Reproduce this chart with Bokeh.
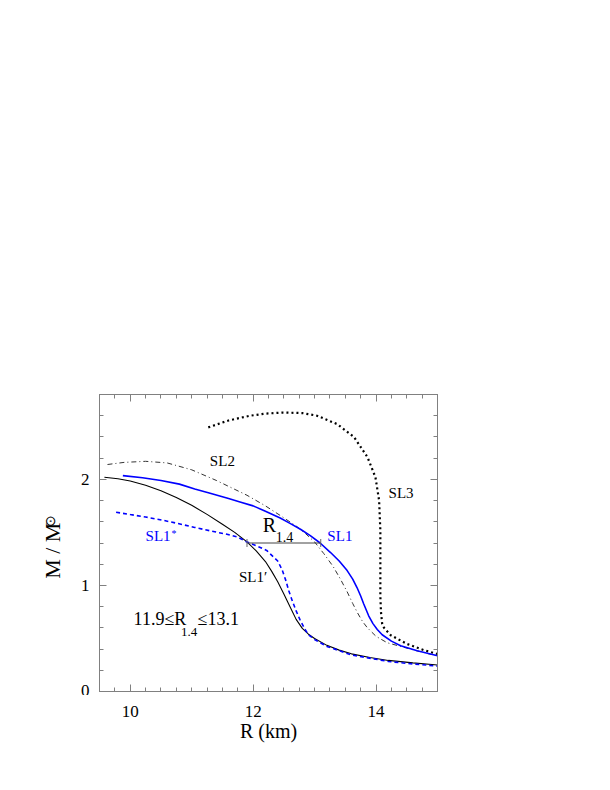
from bokeh.plotting import figure
from bokeh.layouts import row, column
from bokeh.models import Range1d, LinearAxis, SingleIntervalTicker, Label
from bokeh.embed import file_html
from bokeh.resources import INLINE

FONT = "'Liberation Serif', 'Times New Roman', serif"

# ---------------- data ----------------
x_ticks = [10, 12, 14]
y_ticks = [0, 1, 2]

sl1p_r = [9.58, 9.8, 10.0, 10.25, 10.5, 10.75, 11.0, 11.25, 11.5, 11.7, 11.9, 12.05, 12.2, 12.3,
          12.4, 12.5, 12.6, 12.7, 12.8, 12.9, 13.0, 13.2, 13.4, 13.6, 13.9, 14.2, 14.6, 15.0]
sl1p_m = [2.02, 2.005, 1.985, 1.945, 1.893, 1.83, 1.755, 1.67, 1.577, 1.50, 1.41, 1.325, 1.225, 1.135,
          1.035, 0.92, 0.80, 0.68, 0.595, 0.54, 0.50, 0.435, 0.39, 0.355, 0.32, 0.293, 0.27, 0.25]

sl1s_r = [9.77, 10.0, 10.25, 10.51, 10.75, 11.05, 11.3, 11.59, 11.75, 11.9, 12.05, 12.22, 12.4,
          12.47, 12.53, 12.58, 12.64, 12.7, 12.76, 12.84, 12.9, 13.0, 13.2, 13.6, 14.2, 14.6, 15.0]
sl1s_m = [1.69, 1.668, 1.645, 1.617, 1.587, 1.547, 1.515, 1.48, 1.455, 1.41, 1.375, 1.33, 1.23,
          1.15, 1.05, 0.95, 0.85, 0.76, 0.68, 0.59, 0.535, 0.49, 0.425, 0.345, 0.283, 0.26, 0.24]

sl1_r = [9.88, 10.2, 10.5, 10.8, 11.05, 11.3, 11.6, 11.8, 12.0, 12.2, 12.44, 12.6, 12.77, 12.93,
         13.09, 13.26, 13.4, 13.53, 13.62, 13.69, 13.75, 13.8, 13.88, 13.95, 14.02, 14.1, 14.25,
         14.4, 14.67, 15.0]
sl1_m = [2.035, 2.015, 1.99, 1.955, 1.91, 1.87, 1.82, 1.785, 1.75, 1.70, 1.635, 1.585, 1.53, 1.47,
         1.40, 1.31, 1.23, 1.14, 1.06, 0.98, 0.90, 0.825, 0.714, 0.64, 0.585, 0.535, 0.475,
         0.432, 0.384, 0.337]

sl2_r = [9.63, 9.9, 10.25, 10.6, 11.0, 11.4, 11.9, 12.2, 12.44, 12.7, 12.85, 13.0, 13.15, 13.3,
         13.42, 13.53, 13.62, 13.7, 13.78, 13.86, 14.0, 14.18, 14.4, 14.7, 15.0]
sl2_m = [2.14, 2.16, 2.17, 2.155, 2.09, 1.99, 1.85, 1.75, 1.66, 1.56, 1.49, 1.41, 1.30, 1.18,
         1.06, 0.94, 0.83, 0.74, 0.66, 0.60, 0.52, 0.46, 0.425, 0.378, 0.335]

sl3_r = [11.27, 11.6, 11.95, 12.2, 12.49, 12.8, 13.04, 13.37, 13.64, 13.86, 13.99, 14.05, 14.07,
         14.07, 14.07, 14.08, 14.10, 14.13, 14.24, 14.51, 14.78, 15.0]
sl3_m = [2.49, 2.555, 2.60, 2.62, 2.63, 2.625, 2.60, 2.52, 2.40, 2.21, 2.02, 1.80, 1.52,
         1.20, 0.90, 0.75, 0.636, 0.60, 0.53, 0.447, 0.39, 0.353]

r14_bounds = [11.9, 13.1]
m14 = [1.4, 1.4]

# ---------------- geometry ----------------
TOP, FW, FH, BOT, RIGHT = 394, 338, 297, 4, 20   # main frame position / size (px)
LEFT_W = 75                                        # left strip (y title)
P_LEFT = 99 - LEFT_W                               # main figure's left border (tick labels)
STRIP_H = 60                                       # bottom strip (x tick labels + x title)

X0, X1, Y0, Y1 = 9.5, 15.0, 0.0, 2.8
xr = Range1d(X0, X1)
yr = Range1d(Y0, Y1)

# ---------------- main figure ----------------
p = figure(output_backend="svg", toolbar_location=None,
           frame_width=FW, frame_height=FH, x_range=xr, y_range=yr,
           min_border_left=P_LEFT, min_border_top=TOP, min_border_right=RIGHT,
           min_border_bottom=BOT)
p.grid.visible = False
p.outline_line_color = "#808080"
p.outline_line_width = 1
p.background_fill_color = "white"
p.border_fill_color = "white"

xt = SingleIntervalTicker(interval=2, num_minor_ticks=8)
yt = SingleIntervalTicker(interval=1, num_minor_ticks=5)

top = LinearAxis(ticker=xt)
right = LinearAxis(ticker=yt)
p.add_layout(top, "above")
p.add_layout(right, "right")
p.xaxis.ticker = xt
p.yaxis.ticker = yt
for ax in [p.below[0], top, p.left[0], right]:
    ax.axis_line_color = "#808080"
    ax.major_tick_line_color = "#808080"
    ax.minor_tick_line_color = "#808080"
    ax.major_tick_in = 7
    ax.major_tick_out = 0
    ax.minor_tick_in = 4
    ax.minor_tick_out = 0
for ax, ticks in [(p.below[0], x_ticks), (top, x_ticks), (right, y_ticks)]:
    ax.major_label_overrides = {t: "" for t in ticks}
    ax.major_label_text_font_size = "0px"
    ax.major_label_standoff = 0
# y tick labels drawn by the left axis itself
p.left[0].major_label_text_font = FONT
p.left[0].major_label_text_font_size = "17px"
p.left[0].major_label_text_color = "black"
p.left[0].major_label_standoff = 10

# curves
p.line(sl2_r, sl2_m, line_color="#333333", line_width=1, line_dash="5 3 1 3")
p.line(sl3_r, sl3_m, line_color="black", line_width=2.2, line_dash="2 3")
p.line(sl1p_r, sl1p_m, line_color="black", line_width=1.1)
p.line(sl1s_r, sl1s_m, line_color="blue", line_width=1.6, line_dash="4 3")
p.line(sl1_r, sl1_m, line_color="blue", line_width=1.6)

p.line(r14_bounds, m14, line_color="#444444", line_width=1)
p.scatter(r14_bounds, m14, marker="dash", angle=1.5708, size=8, line_color="#666666", line_width=1)

def lab(fig, x, y, text, size, color="black", **kw):
    fig.add_layout(Label(x=x, y=y, text=text, text_font=FONT, text_font_size=size,
                         text_color=color, **kw))

lab(p, 11.296, 2.10, "SL2", "15px")
lab(p, 14.204, 1.80, "SL3", "15px")
lab(p, 13.208, 1.39, "SL1", "15px", "blue")
lab(p, 10.25, 1.39, "SL1", "15px", "blue")
lab(p, 10.25, 1.39, "*", "10px", "blue", x_offset=26, y_offset=5)
lab(p, 11.77, 1.00, "SL1\u2032", "15px")

lab(p, 12.157, 1.469, "R", "20px")
lab(p, 12.157, 1.469, "1.4", "14px", x_offset=13, y_offset=-6)

lab(p, 10.054, 0.589, "11.9\u2264R", "18px")
lab(p, 10.054, 0.589, "1.4", "13px", x_offset=47.5, y_offset=-7)
lab(p, 10.054, 0.589, "\u226413.1", "18px", x_offset=64)

# ---------------- left strip: y title (same vertical geometry as the plot) ----------------
yl = figure(output_backend="svg", toolbar_location=None,
            frame_width=LEFT_W, frame_height=FH,
            x_range=Range1d(0, LEFT_W), y_range=yr,
            x_axis_type=None, y_axis_type=None,
            min_border_left=0, min_border_right=0, min_border_top=TOP, min_border_bottom=BOT)
yl.grid.visible = False
yl.outline_line_color = None
yl.border_fill_color = "white"
yl.background_fill_color = "white"
lab(yl, 52, 1.327, "M / M", "22px", angle=90, angle_units="deg",
    text_align="center", text_baseline="alphabetic")
lab(yl, 50, 1.61, "\u2299", "14px", angle=90, angle_units="deg",
    text_align="center", text_baseline="middle")

# ---------------- bottom strip: x tick labels and x title ----------------
xl = figure(output_backend="svg", toolbar_location=None,
            frame_width=FW, frame_height=STRIP_H, x_range=xr, y_range=Range1d(0, STRIP_H),
            x_axis_type=None, y_axis_type=None,
            min_border_left=99, min_border_right=RIGHT, min_border_top=0, min_border_bottom=0)
xl.grid.visible = False
xl.outline_line_color = None
xl.border_fill_color = "white"
xl.background_fill_color = "white"
for t in x_ticks:
    lab(xl, t, STRIP_H - 16, str(t), "17px", text_align="center", text_baseline="alphabetic")
lab(xl, (X0 + X1) / 2, STRIP_H - 35, "R (km)", "20px", text_align="center",
    text_baseline="alphabetic")

layout = column(row(yl, p, spacing=0), xl, spacing=0)
open("out.html", "w").write(file_html(layout, INLINE))
